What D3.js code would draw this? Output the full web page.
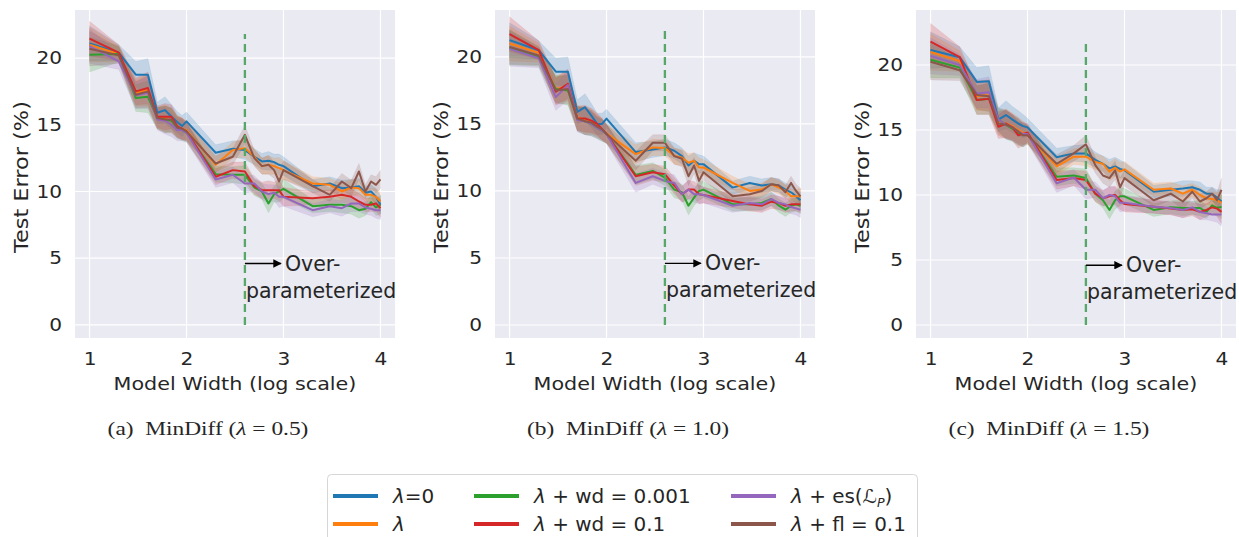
<!DOCTYPE html>
<html>
<head>
<meta charset="utf-8">
<script src="https://cdn.jsdelivr.net/npm/d3@7"></script>
<style>
  body { margin: 0; background: #fff; }
  text { font-family: "DejaVu Sans", sans-serif; fill: #262626; }
</style>
</head>
<body>
<div id="chart"></div>
<script>
// model widths (x axis is log10 of these)
const widths = [10,20,30,40,50,60,70,80,90,100,200,300,400,500,600,700,800,900,1000,2000,3000,4000,5000,6000,7000,8000,9000,10000];
const xTicks = [10,100,1000,10000];
const xTickLabels = ["1","2","3","4"];
const yTicks = [0,5,10,15,20];

const seriesNames = ["λ=0","λ","λ + wd = 0.001","λ + wd = 0.1","λ + es(ℒP)","λ + fl = 0.1"];
const colors = ["#1f77b4","#ff7f0e","#2ca02c","#d62728","#9467bd","#8c564b"];

// panel (a) lambda = 0.5
const a_base   = [21.1,20.4,18.75,18.75,15.9,16.1,15.6,15.2,14.9,15.25,12.9,13.2,13.1,12.6,12.25,12.3,12.2,12.0,11.9,10.4,10.6,10.25,10.3,10.4,9.9,10.0,9.6,9.0];
const a_lam    = [21.0,20.3,17.4,17.6,15.5,15.5,15.3,14.9,14.7,14.6,12.0,13.1,13.25,12.6,11.9,12.0,11.9,11.75,11.6,10.6,10.5,10.0,10.3,10.25,9.75,9.75,9.6,9.25];
const a_wd001  = [20.25,20.3,17.0,17.1,15.5,15.4,15.3,14.8,14.6,14.4,11.3,11.25,11.25,10.3,10.0,9.1,9.8,10.0,10.2,8.9,9.0,9.0,8.9,8.6,8.7,9.2,8.8,9.0];
const a_wd01   = [21.45,20.4,17.5,17.75,15.6,15.6,15.6,14.9,14.7,14.5,11.1,11.6,11.5,10.4,10.1,10.1,10.1,10.1,9.6,9.5,9.6,9.75,9.6,9.25,9.0,9.0,9.1,8.75];
const a_es     = [20.9,19.75,17.2,17.4,15.4,15.3,15.0,14.6,14.6,14.4,10.9,11.25,10.6,10.6,10.0,9.8,9.9,9.6,9.6,8.6,8.9,8.75,9.1,9.1,8.8,8.7,8.6,8.6];
const a_fl     = [20.7,20.2,17.25,17.5,15.5,15.4,15.4,14.8,14.7,14.5,12.1,12.6,14.25,12.5,11.9,12.0,11.6,10.75,11.6,10.4,9.75,10.75,10.25,11.5,10.0,10.75,10.5,10.9];
const a_spread = [1.3,0.6,1.0,1.2,0.8,1.0,0.9,0.8,0.8,0.7,0.6,0.6,0.7,0.6,0.6,0.7,0.6,0.8,0.7,0.5,0.5,0.6,0.6,0.6,0.5,0.5,0.6,0.7];

// panel (b) lambda = 1.0
const b_base   = [21.25,20.5,18.9,18.9,15.9,16.25,15.6,15.0,15.0,15.4,12.9,13.1,13.25,13.0,12.6,11.9,12.25,12.0,12.0,10.25,10.6,10.4,10.5,10.4,10.1,9.9,9.6,9.3];
const b_lam    = [21.0,20.3,17.6,17.8,15.5,15.3,15.2,14.9,14.6,14.3,12.75,13.25,13.2,12.6,12.5,12.1,12.25,11.75,11.75,10.6,10.0,10.1,10.5,10.25,10.0,9.6,9.6,9.6];
const b_wd001  = [20.7,20.0,17.6,17.5,15.4,15.2,15.0,14.7,14.5,14.25,11.2,11.5,11.0,10.1,9.9,8.9,9.5,10.0,10.1,9.0,9.0,9.1,9.4,8.9,8.6,8.9,9.0,8.9];
const b_wd01   = [21.7,20.5,17.4,18.0,15.4,15.4,15.25,15.0,14.6,14.25,11.1,11.4,11.25,10.4,9.75,10.1,10.1,9.75,9.7,9.25,9.0,8.9,9.2,9.1,8.9,9.0,9.0,9.0];
const b_es     = [20.6,19.9,17.0,17.9,15.3,15.2,15.0,14.7,14.5,14.25,10.6,11.1,10.75,10.6,9.75,10.1,9.75,9.75,9.7,8.9,9.1,9.0,9.4,9.1,9.0,8.8,8.7,8.6];
const b_fl     = [20.75,20.1,17.5,17.6,15.4,15.2,15.1,14.8,14.6,14.25,12.25,13.6,13.6,12.6,12.4,11.1,11.9,10.75,11.4,9.6,9.75,10.0,10.5,10.4,9.9,10.6,10.0,9.6];
const b_spread = [1.3,0.7,1.0,1.1,0.9,1.0,0.9,0.8,0.8,0.7,0.7,0.6,0.6,0.6,0.6,0.7,0.6,0.7,0.6,0.5,0.5,0.5,0.5,0.5,0.5,0.5,0.5,0.6];

// panel (c) lambda = 1.5
const c_base   = [21.15,20.6,18.7,18.75,15.8,16.15,15.8,15.5,15.3,15.2,12.9,13.2,13.2,12.7,12.4,12.05,12.2,12.0,11.9,10.25,10.4,10.5,10.6,10.4,10.1,10.1,9.8,9.5];
const c_lam    = [21.0,20.3,17.6,17.7,15.6,15.5,15.3,15.0,14.8,14.6,12.2,12.95,12.95,12.55,12.4,11.8,12.1,11.8,11.97,10.4,10.5,10.1,10.4,10.0,9.75,9.7,9.6,9.4];
const c_wd001  = [20.4,19.8,17.3,17.4,15.8,15.4,15.1,14.8,14.6,14.7,11.4,11.5,11.3,10.1,9.6,8.85,9.6,9.9,9.9,8.85,9.05,9.0,9.0,9.0,8.7,9.2,9.0,9.1];
const c_wd01   = [21.8,20.6,17.3,17.4,15.25,15.5,15.2,14.6,14.7,14.8,11.15,11.3,11.15,10.1,9.75,9.9,10.0,9.6,9.3,9.1,8.97,8.85,8.9,8.7,8.85,9.05,8.95,8.7];
const c_es     = [20.7,20.0,17.8,17.9,15.8,15.4,15.2,14.9,14.7,14.7,10.9,11.35,10.4,10.4,9.75,10.0,9.9,9.4,9.4,9.1,9.0,8.85,9.05,8.7,8.6,8.5,8.5,8.5];
const c_fl     = [20.25,19.6,17.7,17.6,15.5,15.4,15.2,14.9,14.6,14.6,12.4,13.2,13.9,12.3,11.5,11.3,11.9,10.6,11.3,9.6,10.1,9.5,10.25,9.5,9.75,10.1,9.6,10.4];
const c_spread = [1.4,0.8,1.1,1.2,0.9,1.1,1.0,1.0,0.9,0.7,0.7,0.6,0.7,0.6,0.6,0.7,0.7,0.7,0.6,0.5,0.5,0.6,0.5,0.6,0.5,0.5,0.6,0.9];

const captions = ["MinDiff (λ = 0.5)","MinDiff (λ = 1.0)","MinDiff (λ = 1.5)"];
const captionTags = ["(a)","(b)","(c)"];
const overWidth = 400;           // over-parameterized threshold
const vlineTops = [21.8, 22.0, 21.8];
const yDomains = [[-0.98, 23.6], [-0.97, 23.5], [-1.0, 24.23]];

const panels = [
  { series: [a_base,a_lam,a_wd001,a_wd01,a_es,a_fl], spread: a_spread },
  { series: [b_base,b_lam,b_wd001,b_wd01,b_es,b_fl], spread: b_spread },
  { series: [c_base,c_lam,c_wd001,c_wd01,c_es,c_fl], spread: c_spread }
];

const W = 1239, H = 537;
const svg = d3.select("#chart").append("svg")
  .attr("width", W).attr("height", H);

// widen text horizontally around its anchor point (figure looks stretched)
function stretch(sel, s) {
  sel.each(function() {
    const t = d3.select(this);
    const x = +t.attr("x") || 0, y = +t.attr("y") || 0;
    const prev = t.attr("transform") || "";
    t.attr("transform", `${prev} translate(${x},${y}) scale(${s},1) translate(${-x},${-y})`);
  });
}

const defs = svg.append("defs");
defs.append("marker")
  .attr("id","arrow")
  .attr("viewBox","0 0 10 10")
  .attr("refX",9).attr("refY",5)
  .attr("markerWidth",6).attr("markerHeight",6)
  .attr("orient","auto")
  .append("path").attr("d","M0,0 L10,5 L0,10 z").attr("fill","#000");

const axLefts = [75, 495, 916];
const axW = 320, axTop = 10, axH = 328;

panels.forEach((p, pi) => {
  const g = svg.append("g").attr("transform", `translate(${axLefts[pi]},${axTop})`);

  const x = d3.scaleLog()
    .domain([Math.pow(10,0.85), Math.pow(10,4.15)])
    .range([0, axW]);
  const y = d3.scaleLinear().domain(yDomains[pi]).range([axH, 0]);

  // background
  g.append("rect").attr("width",axW).attr("height",axH).attr("fill","#eaeaf2");

  // grid
  g.selectAll(".gx").data(xTicks).enter().append("line")
    .attr("x1",d=>x(d)).attr("x2",d=>x(d)).attr("y1",0).attr("y2",axH)
    .attr("stroke","#fff").attr("stroke-width",1.2);
  g.selectAll(".gy").data(yTicks).enter().append("line")
    .attr("x1",0).attr("x2",axW).attr("y1",d=>y(d)).attr("y2",d=>y(d))
    .attr("stroke","#fff").attr("stroke-width",1.2);

  // tick labels
  const xAxis = g.append("g").attr("transform",`translate(0,${axH})`)
    .call(d3.axisBottom(x).tickValues(xTicks).tickSize(0).tickPadding(15)
      .tickFormat((d,i)=>xTickLabels[i]));
  const yAxis = g.append("g")
    .call(d3.axisLeft(y).tickValues(yTicks).tickSize(0).tickPadding(13));
  [xAxis, yAxis].forEach(ax => {
    ax.select(".domain").remove();
    ax.selectAll("text").attr("font-size",17.5).attr("fill","#262626")
      .attr("font-family","DejaVu Sans");
    stretch(ax.selectAll("text"), 1.15);
  });

  // axis labels
  g.append("text")
    .attr("x",axW/2).attr("y",axH+52)
    .attr("text-anchor","middle").attr("font-size",18)
    .text("Model Width (log scale)")
    .call(stretch, 1.15);
  g.append("text")
    .attr("transform","rotate(-90)")
    .attr("x",-(177 - axTop)).attr("y",-47)
    .attr("text-anchor","middle").attr("font-size",19.5)
    .text("Test Error (%)")
    .call(stretch, 1.15);

  const area = d3.area()
    .x((d,i)=>x(widths[i]))
    .y0((d,i)=>y(d - p.spread[i]))
    .y1((d,i)=>y(d + p.spread[i]));
  const line = d3.line()
    .x((d,i)=>x(widths[i]))
    .y(d=>y(d));

  p.series.forEach((s, si) => {
    g.append("path").datum(s)
      .attr("d", area).attr("fill", colors[si]).attr("fill-opacity",0.2)
      .attr("stroke", colors[si]).attr("stroke-opacity",0.15).attr("stroke-width",0.5);
  });
  p.series.forEach((s, si) => {
    g.append("path").datum(s)
      .attr("d", line).attr("fill","none")
      .attr("stroke", colors[si]).attr("stroke-width",2)
      .attr("stroke-linejoin","round");
  });

  // over-parameterized marker
  const vx = x(overWidth);
  g.append("line")
    .attr("x1",vx).attr("x2",vx)
    .attr("y1",y(0)).attr("y2",y(vlineTops[pi]))
    .attr("stroke","#55a868").attr("stroke-width",2.3)
    .attr("stroke-dasharray","8,5");

  const ay = y(4.6);
  g.append("line")
    .attr("x1",vx).attr("x2",vx+36)
    .attr("y1",ay).attr("y2",ay)
    .attr("stroke","#000").attr("stroke-width",1.4)
    .attr("marker-end","url(#arrow)");
  g.append("text")
    .attr("x",vx+40).attr("y",ay+7)
    .attr("font-size",20.5).text("Over-");
  g.append("text")
    .attr("x",vx+1).attr("y",ay+34)
    .attr("font-size",20.5).text("parameterized");

  // caption
  const cap = svg.append("text")
    .attr("x", axLefts[pi] + 133).attr("y", 435)
    .attr("text-anchor","middle")
    .style("font-family","'Liberation Serif', serif")
    .attr("font-size",19.5);
  cap.append("tspan").text(captionTags[pi] + "\u00a0\u00a0");
  const parts = captions[pi].split("λ");
  cap.append("tspan").text(parts[0]);
  cap.append("tspan").attr("font-style","italic").text("λ");
  cap.append("tspan").text(parts[1]);
  stretch(cap, 1.2);
});

// legend
const lg = svg.append("g").attr("transform","translate(327,474)");
lg.append("rect")
  .attr("x",0.5).attr("y",0.5).attr("width",590).attr("height",80)
  .attr("rx",4).attr("fill","#fff").attr("stroke","#d6d6d6");

const colX = [6, 147, 404];
const rowY = [22, 50];
seriesNames.forEach((name, i) => {
  const col = Math.floor(i/2), row = i % 2;
  const item = lg.append("g").attr("transform",`translate(${colX[col]},${rowY[row]})`);
  item.append("line").attr("x1",0).attr("x2",45).attr("y1",0).attr("y2",0)
    .attr("stroke",colors[i]).attr("stroke-width",4);
  const t = item.append("text").attr("x",60).attr("y",7).attr("font-size",19);
  t.append("tspan").attr("font-style","italic").text("λ");
  const rest = name.slice(1);
  if (rest.includes("ℒP")) {
    const [pre, post] = rest.split("ℒP");
    t.append("tspan").text(pre);
    t.append("tspan").attr("font-style","italic").text("ℒ");
    t.append("tspan").attr("font-size",12).attr("dy",4).attr("font-style","italic").text("P");
    t.append("tspan").attr("dy",-4).text(post);
  } else {
    t.append("tspan").text(rest);
  }
  stretch(t, 1.05);
});
</script>
</body>
</html>
